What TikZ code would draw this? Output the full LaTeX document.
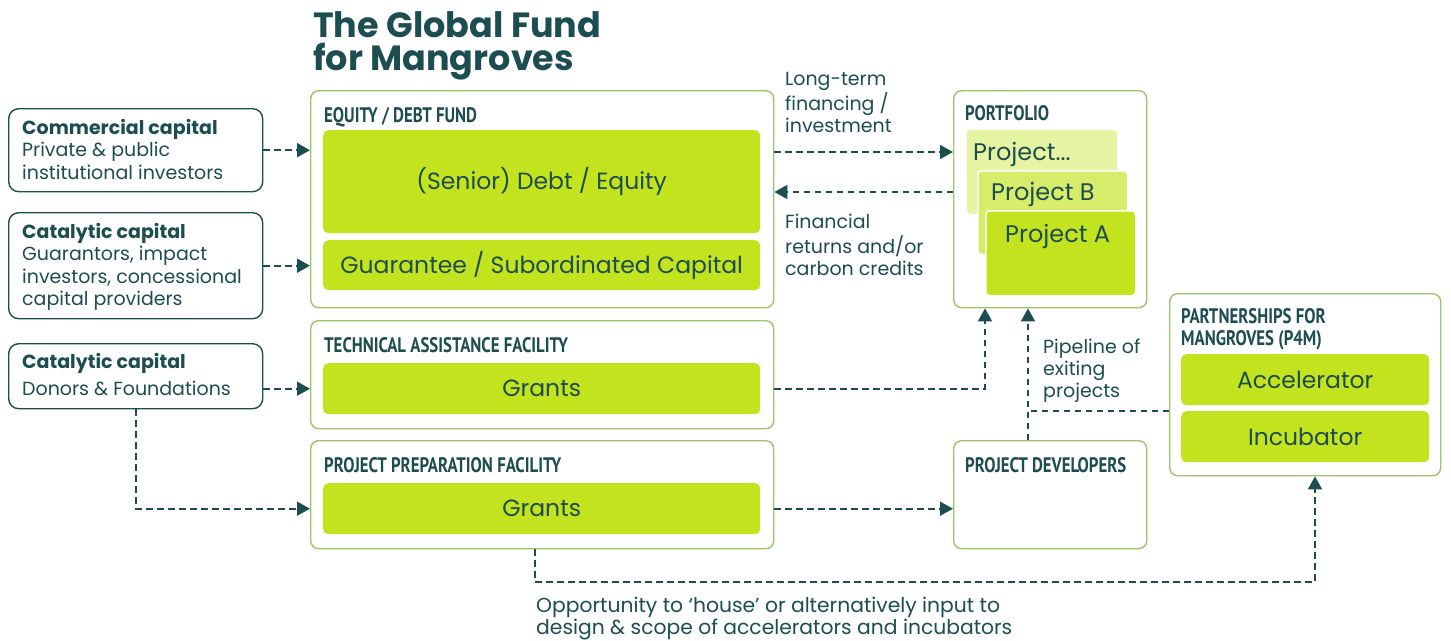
\documentclass[tikz,border=0pt]{standalone}
\usepackage{fontspec}
\setmainfont{Poppins}
\newfontfamily\hdrfont[FakeStretch=0.8]{PT Sans}
\usetikzlibrary{arrows.meta}
\definecolor{dteal}{HTML}{1C4D50}
\definecolor{glime}{HTML}{C4E31F}
\definecolor{gpale}{HTML}{E5F3A3}
\definecolor{gmid}{HTML}{D6EC6A}
\definecolor{gborder}{HTML}{9DC46B}
\tikzset{
  gbox/.style={draw=gborder, line width=1.4pt, rounded corners=8pt, fill=white, anchor=north west, inner sep=0pt},
  lbox/.style={draw=dteal, line width=1.4pt, rounded corners=10pt, anchor=north west, inner sep=0pt},
  fbox/.style={fill=glime, rounded corners=5pt, anchor=north west, inner sep=0pt, text=dteal, font=\fontsize{23.5}{27}\selectfont},
  pbox/.style={rounded corners=4pt, anchor=north west, inner sep=0pt, draw=white, line width=1.5pt, minimum width=150pt},
  hdr/.style={anchor=base west, inner sep=0pt, text=dteal, font=\hdrfont\bfseries\fontsize{21}{22}\selectfont},
  body/.style={anchor=north west, align=left, inner sep=0pt, text=dteal, font=\fontsize{19}{22.5}\selectfont},
  ptxt/.style={anchor=base west, inner sep=0pt, text=dteal, font=\fontsize{24}{27}\selectfont},
  dline/.style={dteal, line width=1.8pt, dash pattern=on 6.5pt off 4.5pt},
  conn/.style={dline, -{Triangle[length=13pt,width=14pt]}},
}
\begin{document}
\begin{tikzpicture}[x=1pt,y=-1pt]
\path[use as bounding box] (0,0) rectangle (1451,640);

% title
\node[anchor=base west, inner sep=0pt, text=dteal, font=\bfseries\fontsize{35}{35}\selectfont] (t1) at (313,37) {The Global Fund};
\node[anchor=base west, inner sep=0pt, text=dteal, font=\bfseries\fontsize{35}{35}\selectfont] (t2) at (313,70) {for Mangroves};

% left boxes
\node[lbox, minimum width=254pt, minimum height=83pt] (cc) at (8,108) {};
\node[body] (cct) at (22,118.25) {\strut\textbf{Commercial capital}\\Private \& public\\institutional investors};
\node[lbox, minimum width=254pt, minimum height=106pt] (ca) at (8,212) {};
\node[body] (cat) at (22,222.25) {\strut\textbf{Catalytic capital}\\Guarantors, impact\\investors, concessional\\capital providers};
\node[lbox, minimum width=254pt, minimum height=65pt] (cd) at (8,343) {};
\node[body] (cdt) at (22,352.25) {\strut\textbf{Catalytic capital}\\[4.5pt]Donors \& Foundations};

% fund boxes
\node[gbox, minimum width=463pt, minimum height=217pt] (eq) at (310,90) {};
\node[hdr] (eqh) at (324,122) {EQUITY / DEBT FUND};
\node[fbox, minimum width=437pt, minimum height=103pt] (sd) at (323,130) {(Senior) Debt / Equity};
\node[fbox, minimum width=437pt, minimum height=50pt] (gu) at (323,240) {Guarantee / Subordinated Capital};

\node[gbox, minimum width=463pt, minimum height=108pt] (ta) at (310,320) {};
\node[hdr] (tah) at (324,352) {TECHNICAL ASSISTANCE FACILITY};
\node[fbox, minimum width=437pt, minimum height=51pt] (tag) at (323,363) {Grants};

\node[gbox, minimum width=463pt, minimum height=108pt] (pp) at (310,440) {};
\node[hdr] (pph) at (324,472) {PROJECT PREPARATION FACILITY};
\node[fbox, minimum width=437pt, minimum height=51pt] (ppg) at (323,483) {Grants};

% portfolio
\node[gbox, minimum width=193pt, minimum height=217pt] (pf) at (953,90) {};
\node[hdr] (pfh) at (965,120) {PORTFOLIO};
\node[pbox, fill=gpale, draw=none, minimum height=84pt] (p3) at (966,129) {};
\node[ptxt] (p3t) at (973,160) {Project...};
\node[pbox, fill=gmid, minimum height=84pt] (p2) at (977,170) {};
\node[ptxt] (p2t) at (991,200) {Project B};
\node[pbox, fill=glime, minimum height=85pt] (p1) at (985,210) {};
\node[ptxt] (p1t) at (1005,242) {Project A};

% project developers
\node[gbox, minimum width=193pt, minimum height=108pt] (pd) at (953,440) {};
\node[hdr] (pdh) at (965,472) {PROJECT DEVELOPERS};

% P4M
\node[gbox, minimum width=271pt, minimum height=182pt] (pm) at (1169,293) {};
\node[hdr] (pmh1) at (1181,323) {PARTNERSHIPS FOR};
\node[hdr] (pmh2) at (1181,345) {MANGROVES (P4M)};
\node[fbox, minimum width=248pt, minimum height=51pt] (acc) at (1181,354) {Accelerator};
\node[fbox, minimum width=248pt, minimum height=51pt] (inc) at (1181,411) {Incubator};

% labels
\node[body, font=\fontsize{19}{21.5}\selectfont] (l1) at (785,69.9) {\strut Long-term\\financing /\\investment};
\node[body, font=\fontsize{19}{21.5}\selectfont] (l2) at (785,212.9) {\strut Financial\\returns and/or\\carbon credits};
\node[body, font=\fontsize{19}{22}\selectfont] (l3) at (1043,337.6) {\strut Pipeline of\\exiting\\projects};
\node[body, font=\fontsize{20.3}{20.5}\selectfont] (l4) at (536,596.6) {\strut Opportunity to ‘house’ or alternatively input to\\design \& scope of accelerators and incubators};

% helper coordinates
\coordinate (ya) at (0,152);
\coordinate (yb) at (0,192);
\coordinate (xa) at (985,0);
\coordinate (xb) at (1028,0);
\coordinate (xc) at (535,0);
\coordinate (xd) at (1315,0);
\coordinate (yc) at (0,582);

% connectors
\draw[conn] (cc.east) -- (cc.east -| eq.west);
\draw[conn] (ca.east) -- (ca.east -| eq.west);
\draw[conn] (cd.east |- tag) -- (ta.west |- tag);
\draw[conn] (cd.south) |- (pp.west |- ppg);
\draw[conn] (eq.east |- ya) -- (pf.west |- ya);
\draw[conn] (pf.west |- yb) -- (eq.east |- yb);
\draw[conn] (ta.east |- tag) -| (xa |- pf.south);
\draw[conn] (xb |- pd.north) -- (xb |- pf.south);
\draw[dline] (pm.west |- inc.north) -- (xb |- inc.north);
\draw[conn] (pp.east |- ppg) -- (pd.west |- ppg);
\draw[conn] (xc |- pp.south) -- (xc |- yc) -| (xd |- pm.south);
\end{tikzpicture}
\end{document}
